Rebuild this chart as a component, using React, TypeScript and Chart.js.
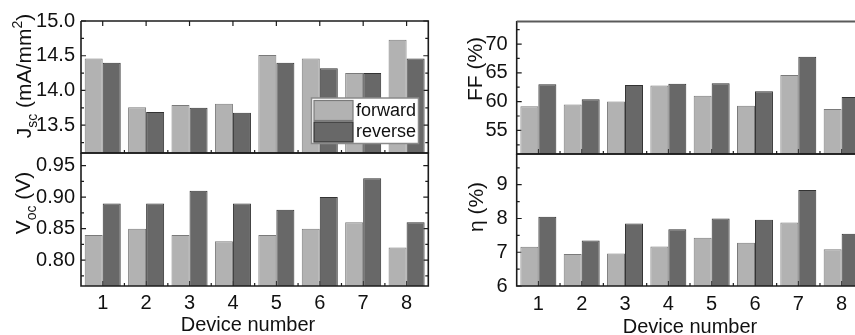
import React, { useEffect, useRef } from "react";
import { Chart, registerables } from "chart.js";

Chart.register(...registerables);

// ---------------- data ----------------
const devices = ["1", "2", "3", "4", "5", "6", "7", "8"];
const seriesNames = ["forward", "reverse"];

const jscForward = [14.46, 13.76, 13.79, 13.81, 14.51, 14.46, 14.25, 14.73];
const jscReverse = [14.4, 13.69, 13.75, 13.68, 14.4, 14.32, 14.25, 14.46];

const vocForward = [0.84, 0.85, 0.84, 0.83, 0.84, 0.85, 0.86, 0.82];
const vocReverse = [0.89, 0.89, 0.91, 0.89, 0.88, 0.9, 0.93, 0.86];

const ffForward = [59.2, 59.5, 60.0, 62.8, 61.0, 59.3, 64.6, 58.7];
const ffReverse = [63.0, 60.4, 62.9, 63.1, 63.2, 61.8, 67.8, 60.8];

const etaForward = [7.16, 6.95, 6.96, 7.17, 7.43, 7.28, 7.88, 7.09];
const etaReverse = [8.05, 7.35, 7.85, 7.68, 8.0, 7.96, 8.84, 7.55];

const jscTicks = [13.5, 14.0, 14.5, 15.0];
const jscMinor = [13.25, 13.75, 14.25, 14.75];
const vocTicks = [0.8, 0.85, 0.9, 0.95];
const vocMinor = [0.775, 0.825, 0.875, 0.925];
const ffTicks = [55, 60, 65, 70];
const ffMinor = [52.5, 57.5, 62.5, 67.5, 72.5];
const etaTicks = [6, 7, 8, 9];
const etaMinor = [6.5, 7.5, 8.5, 9.5];

const xTitle = "Device number";

// ---------------- styling ----------------
const W = 870;
const H = 335;
const FONT = "'Liberation Sans', Arial, Helvetica, sans-serif";
const FWD_FILL = "#b2b2b2";
const FWD_LINE = "#7a7a7a";
const REV_FILL = "#686868";
const REV_LINE = "#333333";
const AXIS = "#1c1c1c";
const TEXT = "#111111";

type Seg = { t: string; m?: "sub" | "sup" };

interface PanelCfg {
  left: number;
  right: number;
  top: number;
  bottom: number;
  min: number;
  max: number;
  forward: number[];
  reverse: number[];
  ticks: number[];
  minor: number[];
  decimals: number;
  title: Seg[];
  titleX: number;
  titleY: number;
  tickPad: number;
  bottomAxis: boolean;
  xTickPad?: number;
  xTitleX?: number;
  xTitleY?: number;
  legend?: boolean;
  grayTop?: boolean;
  topCenterTicks?: boolean;
}

const XH = 28;

function drawSegs(ctx: CanvasRenderingContext2D, segs: Seg[], size: number) {
  const small = Math.round(size * 0.68);
  let total = 0;
  const widths = segs.map((s) => {
    ctx.font = `${s.m ? small : size}px ${FONT}`;
    const w = ctx.measureText(s.t).width;
    total += w;
    return w;
  });
  let x = -total / 2;
  segs.forEach((s, i) => {
    ctx.font = `${s.m ? small : size}px ${FONT}`;
    const dy = s.m === "sub" ? size * 0.28 : s.m === "sup" ? -size * 0.42 : 0;
    ctx.fillText(s.t, x, dy);
    x += widths[i];
  });
}

function makePlugin(p: PanelCfg) {
  return {
    id: "panelDecor",
    beforeDatasetsDraw(chart: any) {
      const ctx: CanvasRenderingContext2D = chart.ctx;
      const { left, right, top, bottom } = chart.chartArea;
      const xs = chart.scales.x;
      const ys = chart.scales.y;
      const MAJ = 5;
      const MIN = 3;
      ctx.save();
      ctx.strokeStyle = AXIS;
      ctx.lineWidth = 1.2;
      ctx.beginPath();
      for (const v of p.ticks) {
        const y = ys.getPixelForValue(v);
        ctx.moveTo(left, y);
        ctx.lineTo(left + MAJ, y);
        ctx.moveTo(right, y);
        ctx.lineTo(right - MAJ, y);
      }
      for (const v of p.minor) {
        const y = ys.getPixelForValue(v);
        ctx.moveTo(left, y);
        ctx.lineTo(left + MIN, y);
        ctx.moveTo(right, y);
        ctx.lineTo(right - MIN, y);
      }
      const n = chart.data.labels.length;
      for (let i = 0; i < n; i++) {
        const cx = xs.getPixelForValue(i);
        if (p.topCenterTicks) {
          ctx.moveTo(cx, top);
          ctx.lineTo(cx, top + MAJ);
        } else {
          ctx.moveTo(cx, bottom);
          ctx.lineTo(cx, bottom - MAJ);
        }
        if (i < n - 1) {
          const bx = (cx + xs.getPixelForValue(i + 1)) / 2;
          ctx.moveTo(bx, bottom);
          ctx.lineTo(bx, bottom - MIN);
        }
      }
      ctx.stroke();
      ctx.restore();
    },
    afterDatasetsDraw(chart: any) {
      const ctx: CanvasRenderingContext2D = chart.ctx;
      const { left, right, top, bottom } = chart.chartArea;
      ctx.save();
      ctx.strokeStyle = AXIS;
      ctx.lineWidth = 1.6;
      ctx.beginPath();
      ctx.moveTo(left, top);
      ctx.lineTo(left, bottom);
      ctx.lineTo(right, bottom);
      ctx.lineTo(right, top);
      if (!p.grayTop) ctx.lineTo(left, top);
      ctx.stroke();
      if (p.grayTop) {
        ctx.strokeStyle = "#5a5a5a";
        ctx.lineWidth = 2;
        ctx.beginPath();
        ctx.moveTo(left, top + 0.5);
        ctx.lineTo(right, top + 0.5);
        ctx.stroke();
      }
      if (p.legend) {
        const ds = chart.data.datasets;
        const bx = 311.5, by = 98, bw = 107, bh = 45.5;
        ctx.fillStyle = "#ffffff";
        ctx.fillRect(bx, by, bw, bh);
        ctx.strokeStyle = "#8a8a8a";
        ctx.lineWidth = 1.5;
        ctx.strokeRect(bx, by, bw, bh);
        const rows = [100.5, 122];
        ds.forEach((d: any, i: number) => {
          const y0 = rows[i];
          ctx.fillStyle = d.backgroundColor;
          ctx.fillRect(314, y0, 39, 20);
          ctx.strokeStyle = d.borderColor;
          ctx.lineWidth = 1.2;
          ctx.strokeRect(314, y0, 39, 20);
          ctx.fillStyle = TEXT;
          ctx.font = `18px ${FONT}`;
          ctx.textAlign = "left";
          ctx.textBaseline = "middle";
          ctx.fillText(d.label, 356, y0 + 10.5);
        });
      }
      ctx.restore();
    },
    afterDraw(chart: any) {
      const ctx: CanvasRenderingContext2D = chart.ctx;
      ctx.save();
      ctx.fillStyle = TEXT;
      ctx.textAlign = "left";
      ctx.textBaseline = "alphabetic";
      ctx.translate(p.titleX, p.titleY);
      ctx.rotate(-Math.PI / 2);
      drawSegs(ctx, p.title, 21);
      ctx.restore();
      if (p.bottomAxis && p.xTitleX !== undefined && p.xTitleY !== undefined) {
        ctx.save();
        ctx.fillStyle = TEXT;
        ctx.font = `20px ${FONT}`;
        ctx.textAlign = "center";
        ctx.textBaseline = "alphabetic";
        ctx.fillText(xTitle, p.xTitleX, p.xTitleY);
        ctx.restore();
      }
    },
  };
}

function makeConfig(p: PanelCfg): any {
  const padBottom = p.bottomAxis ? H - p.bottom - XH : H - p.bottom;
  return {
    type: "bar",
    data: {
      labels: devices,
      datasets: [
        {
          label: seriesNames[0],
          data: p.forward,
          backgroundColor: FWD_FILL,
          borderColor: FWD_LINE,
          borderWidth: 1,
          categoryPercentage: 0.83,
          barPercentage: 1.0,
        },
        {
          label: seriesNames[1],
          data: p.reverse,
          backgroundColor: REV_FILL,
          borderColor: REV_LINE,
          borderWidth: 1,
          categoryPercentage: 0.83,
          barPercentage: 1.0,
        },
      ],
    },
    options: {
      responsive: false,
      animation: false,
      devicePixelRatio: 1,
      events: [],
      layout: {
        padding: { left: 0, top: p.top, right: W - p.right, bottom: padBottom },
      },
      plugins: {
        legend: { display: false },
        tooltip: { enabled: false },
        title: { display: false },
      },
      scales: {
        x: {
          display: p.bottomAxis,
          grid: { display: false, drawTicks: false },
          border: { display: false },
          ticks: {
            color: TEXT,
            font: { family: FONT, size: 20 },
            padding: p.xTickPad ?? 4,
            maxRotation: 0,
            autoSkip: false,
          },
          afterFit: (s: any) => {
            s.height = p.bottomAxis ? XH : 0;
          },
        },
        y: {
          min: p.min,
          max: p.max,
          grid: { display: false, drawTicks: false },
          border: { display: false },
          ticks: {
            color: TEXT,
            font: { family: FONT, size: 20 },
            padding: p.tickPad,
            callback: (v: any) => Number(v).toFixed(p.decimals),
          },
          afterBuildTicks: (s: any) => {
            s.ticks = p.ticks.map((v) => ({ value: v }));
          },
          afterFit: (s: any) => {
            s.width = p.left;
          },
        },
      },
    },
    plugins: [makePlugin(p)],
  };
}

const panels: PanelCfg[] = [
  {
    left: 81, right: 428.3, top: 21, bottom: 153,
    min: 13.1, max: 15.0,
    forward: jscForward, reverse: jscReverse,
    ticks: jscTicks, minor: jscMinor, decimals: 1,
    title: [{ t: "J" }, { t: "sc", m: "sub" }, { t: " (mA/mm" }, { t: "2", m: "sup" }, { t: ")" }],
    titleX: 31, titleY: 76,
    tickPad: 6,
    bottomAxis: false,
    legend: true,
    topCenterTicks: true,
  },
  {
    left: 81, right: 428.3, top: 153, bottom: 286,
    min: 0.759, max: 0.97,
    forward: vocForward, reverse: vocReverse,
    ticks: vocTicks, minor: vocMinor, decimals: 2,
    title: [{ t: "V" }, { t: "oc", m: "sub" }, { t: " (V)" }],
    titleX: 30, titleY: 203,
    tickPad: 6,
    bottomAxis: true,
    xTickPad: 5,
    xTitleX: 248, xTitleY: 331,
  },
  {
    left: 516.7, right: 863.3, top: 21, bottom: 154,
    min: 50.9, max: 74.0,
    forward: ffForward, reverse: ffReverse,
    ticks: ffTicks, minor: ffMinor, decimals: 0,
    title: [{ t: "FF (%)" }],
    titleX: 482, titleY: 69,
    tickPad: 9,
    bottomAxis: false,
    grayTop: true,
    topCenterTicks: false,
  },
  {
    left: 516.7, right: 863.3, top: 154, bottom: 286,
    min: 6.0, max: 9.91,
    forward: etaForward, reverse: etaReverse,
    ticks: etaTicks, minor: etaMinor, decimals: 0,
    title: [{ t: "η (%)" }],
    titleX: 483, titleY: 207,
    tickPad: 9,
    bottomAxis: true,
    xTickPad: 6,
    xTitleX: 690, xTitleY: 332.5,
  },
];

function Panel({ cfg }: { cfg: PanelCfg }) {
  const ref = useRef<HTMLCanvasElement | null>(null);
  useEffect(() => {
    if (!ref.current) return;
    const chart = new Chart(ref.current, makeConfig(cfg));
    return () => chart.destroy();
  }, [cfg]);
  return (
    <canvas
      ref={ref}
      width={W}
      height={H}
      style={{ position: "absolute", left: 0, top: 0, width: W, height: H }}
    />
  );
}

export default function App() {
  return (
    <div
      style={{
        position: "fixed",
        left: 0,
        top: 0,
        width: 855,
        height: 335,
        overflow: "hidden",
        background: "#ffffff",
      }}
    >
      {panels.map((p, i) => (
        <Panel key={i} cfg={p} />
      ))}
    </div>
  );
}
